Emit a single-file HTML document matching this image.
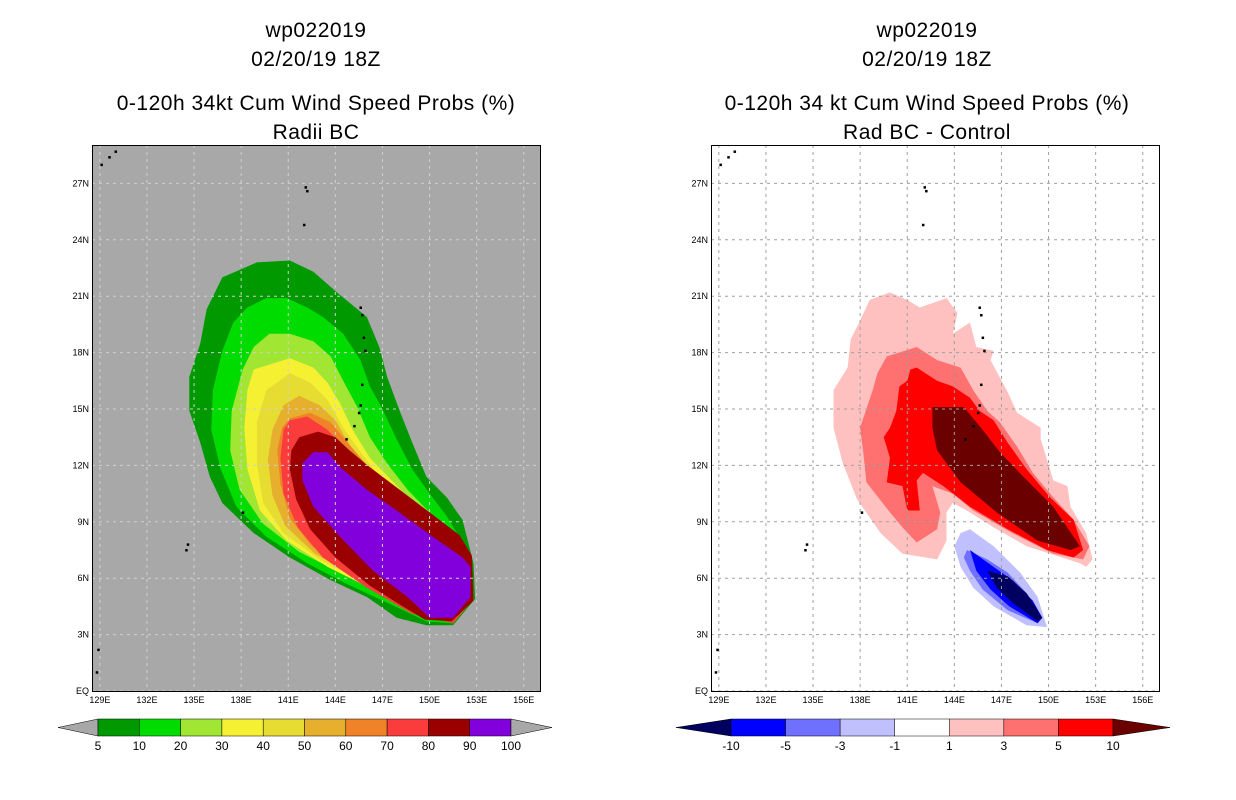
<!DOCTYPE html>
<html><head><meta charset="utf-8">
<style>
body{margin:0;background:#fff;}
svg{display:block;font-family:"Liberation Sans",sans-serif;}
.title{font-size:21px;fill:#000;text-anchor:middle;letter-spacing:0.5px;}
.tick{font-size:9px;fill:#000;}
.cbl{font-size:12px;fill:#000;text-anchor:middle;}
</style></head>
<body>
<svg id="chart" width="1236" height="800" viewBox="0 0 1236 800"></svg>
<script>
// ---- data ----
const lonTicks=[129,132,135,138,141,144,147,150,153,156];
const latTicks=[0,3,6,9,12,15,18,21,24,27];
const lonLabels=["129E","132E","135E","138E","141E","144E","147E","150E","153E","156E"];
const latLabels=["EQ","3N","6N","9N","12N","15N","18N","21N","24N","27N"];
const leftLevels=["5","10","20","30","40","50","60","70","80","90","100"];
const leftColors=["#009a00","#00dc00","#a0e632","#f5f032","#e6dc32","#e6af2d","#f08228","#fa3c3c","#9a0000","#8200dc"];
const rightLevels=["-10","-5","-3","-1","1","3","5","10"];
const rightColors=["#0000ff","#7070ff","#c0c0ff","#ffffff","#ffc0c0","#ff7070","#ff0000"];
// contour polygons [lon,lat]
const L5=[[136.8,22.0],[139.0,22.8],[141.1,22.9],[142.6,22.3],[144.1,21.2],[146.0,19.9],[146.8,18.3],[147.3,16.7],[148.1,14.9],[148.9,13.2],[149.8,11.4],[151.1,10.3],[152.1,9.1],[152.8,6.8],[152.9,4.9],[151.5,3.5],[149.8,3.5],[147.9,3.9],[146.0,5.0],[143.7,5.9],[141.1,7.1],[138.8,8.4],[136.8,10.0],[136.0,11.4],[135.4,13.2],[134.7,14.9],[134.7,16.7],[135.4,18.5],[135.8,20.3]];
const L10=[[138.4,20.4],[139.6,20.9],[140.9,20.9],[142.2,20.4],[143.2,19.9],[144.5,19.0],[145.6,17.6],[146.2,16.2],[147.0,15.0],[147.9,13.4],[148.9,11.8],[150.0,10.5],[151.1,9.3],[152.1,7.9],[152.7,6.6],[152.8,4.9],[151.5,3.6],[149.8,3.7],[147.3,4.7],[144.7,5.7],[142.2,6.8],[139.6,8.2],[137.7,9.8],[136.7,11.8],[136.1,13.9],[136.2,16.0],[136.8,18.1],[137.5,19.6]];
const L20=[[139.8,19.0],[141.1,19.0],[142.6,18.6],[143.7,17.8],[144.5,16.5],[145.4,15.1],[146.2,13.5],[147.3,12.1],[148.6,10.7],[150.0,9.5],[151.5,8.2],[152.4,7.0],[152.8,4.9],[151.5,3.6],[149.4,4.1],[146.8,5.2],[144.3,6.3],[141.7,7.4],[139.4,8.9],[137.9,10.7],[137.3,12.8],[137.4,14.9],[138.1,17.1],[138.8,18.3]];
const L30=[[138.8,17.1],[141.1,17.7],[142.6,17.2],[143.5,16.4],[144.3,15.3],[145.1,13.9],[146.2,12.4],[147.7,11.1],[149.4,9.6],[151.1,8.4],[152.4,7.0],[152.8,4.9],[151.5,3.6],[148.9,4.3],[146.4,5.4],[143.5,6.6],[140.9,8.0],[139.2,9.6],[138.4,11.8],[138.2,14.0],[138.4,16.0]];
const L40=[[141.1,16.9],[142.4,16.4],[143.5,15.5],[144.5,14.0],[145.6,12.7],[147.0,11.2],[148.9,9.8],[150.9,8.6],[152.4,7.1],[152.8,4.9],[151.5,3.6],[148.8,4.5],[146.0,5.7],[143.0,7.0],[140.7,8.4],[139.4,10.0],[139.0,12.1],[139.0,14.3],[139.6,16.0]];
const L50=[[141.7,15.7],[143.0,15.2],[144.0,14.4],[144.9,13.1],[146.2,11.8],[147.8,10.4],[149.7,9.2],[151.6,8.0],[152.4,7.0],[152.8,4.9],[151.5,3.6],[148.4,4.7],[145.6,6.0],[142.7,7.3],[140.8,8.8],[140.0,10.4],[139.7,12.3],[140.0,13.9],[140.7,15.2]];
const L60=[[141.1,14.5],[142.4,14.8],[143.7,14.3],[144.6,13.4],[145.9,12.1],[147.5,10.7],[149.4,9.5],[151.3,8.2],[152.3,7.0],[152.8,4.9],[151.5,3.6],[148.1,4.8],[145.3,6.3],[142.5,7.7],[141.1,9.2],[140.5,11.0],[140.3,12.8],[140.6,14.0]];
const L70=[[141.1,14.4],[142.2,14.6],[143.5,13.9],[144.7,12.8],[146.4,11.4],[148.6,10.0],[150.7,8.7],[152.1,7.5],[152.8,4.9],[151.5,3.6],[148.9,4.1],[146.0,5.5],[143.2,7.1],[141.6,8.7],[140.7,10.5],[140.5,12.4],[140.7,13.9]];
const L80=[[141.7,13.5],[142.9,13.8],[144.0,13.5],[144.9,12.8],[146.2,11.9],[148.1,10.7],[150.0,9.5],[151.9,8.3],[152.7,7.2],[152.8,4.8],[151.4,3.7],[149.7,3.8],[148.1,4.6],[146.2,5.6],[144.0,7.1],[142.4,8.6],[141.5,10.2],[141.1,11.8],[141.2,12.8]];
const L90=[[142.6,12.7],[143.5,12.7],[144.3,11.9],[146.0,10.7],[147.9,9.6],[150.2,8.2],[152.1,7.1],[152.6,6.6],[152.6,5.0],[151.5,3.9],[150.0,3.9],[148.6,5.0],[146.4,6.4],[144.3,8.2],[142.6,9.8],[141.9,11.2],[141.9,12.1]];
const P1=[[138.6,20.8],[139.9,21.2],[141.0,20.8],[141.8,20.4],[143.5,20.9],[144.2,20.1],[143.9,19.0],[145.0,19.6],[145.4,18.3],[146.5,18.1],[146.3,17.6],[147.4,15.9],[148.0,14.8],[149.5,14.0],[149.5,13.4],[150.3,11.2],[151.2,10.9],[151.4,9.8],[152.4,8.4],[152.8,7.0],[152.4,6.6],[152.0,6.8],[148.6,7.7],[146.5,8.7],[144.8,9.6],[143.9,10.0],[143.5,9.5],[143.5,8.0],[142.9,7.0],[140.7,7.3],[139.3,8.4],[137.8,10.2],[136.9,12.1],[136.3,14.0],[136.3,16.0],[137.2,17.2],[137.4,18.7],[138.0,19.7]];
const P3=[[139.7,17.8],[141.6,18.3],[142.9,17.6],[144.4,17.2],[145.2,16.0],[146.1,14.9],[146.9,14.3],[148.0,13.0],[149.0,11.6],[150.3,10.3],[151.6,9.1],[152.6,7.7],[152.2,7.0],[150.3,7.3],[147.7,8.4],[145.2,9.6],[143.9,10.5],[142.6,10.9],[143.1,9.5],[142.9,8.6],[141.6,7.9],[140.7,8.7],[139.9,9.5],[138.4,11.1],[138.2,12.7],[138.0,14.0],[138.8,16.0],[139.1,16.9]];
const P5=[[141.2,17.1],[141.6,17.2],[142.9,16.5],[143.9,16.2],[145.0,15.6],[145.6,14.9],[146.5,14.4],[147.4,13.2],[148.6,11.8],[150.1,10.3],[151.6,9.1],[152.2,7.5],[151.6,7.1],[149.9,7.5],[147.4,8.6],[145.0,9.8],[143.3,10.9],[142.0,11.6],[141.6,11.2],[141.8,9.6],[141.0,9.6],[140.7,10.9],[139.7,11.1],[139.9,12.4],[139.5,13.5],[139.9,14.0],[140.3,14.9],[140.5,16.2],[141.0,16.5]];
const P10=[[142.6,15.1],[144.6,15.1],[145.8,13.9],[146.9,12.7],[148.4,11.4],[150.3,9.8],[152.0,7.7],[151.4,7.5],[149.3,8.0],[146.7,9.5],[144.4,11.1],[142.9,12.8],[142.6,14.0]];
const N1=[[144.4,8.4],[145.0,8.6],[146.5,7.7],[148.2,6.3],[149.3,5.0],[149.9,3.4],[148.6,3.5],[146.5,4.5],[145.2,5.5],[144.4,6.6],[144.0,7.7]];
const N3=[[144.8,7.5],[146.1,7.0],[147.4,6.3],[148.6,5.2],[149.6,3.9],[149.3,3.6],[147.4,4.3],[145.8,5.4],[145.0,6.4],[144.6,7.1]];
const N5=[[145.0,7.5],[146.5,6.6],[147.7,5.9],[149.0,4.8],[149.6,3.9],[149.3,3.6],[147.5,4.5],[146.3,5.4],[145.4,6.4]];
const N10=[[146.1,6.4],[147.4,6.1],[148.6,5.2],[149.6,3.9],[149.3,3.7],[147.7,4.7],[146.7,5.5]];
const islands=[[129.1,28.0],[129.6,28.4],[130.0,28.7],[142.1,26.8],[142.2,26.6],[142.0,24.8],[145.6,20.4],[145.7,20.0],[145.8,18.8],[145.9,18.1],[145.7,16.3],[145.6,15.2],[145.5,14.8],[145.2,14.1],[144.7,13.4],[138.1,9.5],[134.5,7.5],[134.6,7.8],[128.9,2.2],[128.8,1.0]];

// ---- axes ----
const panels=[{x0:92,name:"radii-bc"},{x0:711,name:"rad-bc-minus-control"}];
const PX=15.7, PY=18.8, LON0=128.5, Y0=691, TOP=145, W=448;
function sx(p,lon){return p.x0+(lon-LON0)*PX;}
function sy(lat){return Y0-lat*PY;}
const NS="http://www.w3.org/2000/svg";
const svg=document.getElementById('chart');
function mk(tag,attrs,parent){const e=document.createElementNS(NS,tag);for(const k in attrs)e.setAttribute(k,attrs[k]);(parent||svg).appendChild(e);return e;}
function poly(p,pts,fill,name,g){
  const e=mk('polygon',{points:pts.map(q=>sx(p,q[0]).toFixed(1)+','+sy(q[1]).toFixed(1)).join(' '),fill:fill},g);
  
  
}
function text(x,y,s,cls,name,anchor){const t=mk('text',{x:x,y:y,class:cls});if(anchor)t.setAttribute('text-anchor',anchor);t.textContent=s;return t;}

// titles
text(316,37,"wp022019","title","left-title-storm");
text(316,66,"02/20/19 18Z","title","left-title-date");
text(316,110,"0-120h 34kt Cum Wind Speed Probs (%)","title","left-title-product");
text(316,139,"Radii BC","title","left-subtitle");
text(927,37,"wp022019","title","right-title-storm");
text(927,66,"02/20/19 18Z","title","right-title-date");
text(927,110,"0-120h 34 kt Cum Wind Speed Probs (%)","title","right-title-product");
text(927,139,"Rad BC - Control","title","right-subtitle");

panels.forEach((p,pi)=>{
  const g=mk('g',{});
  
  
  const cp='clip'+pi;
  const cl=mk('clipPath',{id:cp},g);mk('rect',{x:p.x0,y:TOP,width:W,height:Y0-TOP},cl);
  const bg=mk('rect',{x:p.x0,y:TOP,width:W,height:Y0-TOP,fill:pi==0?'#a8a8a8':'#ffffff'},g);
  
  
  const cg=mk('g',{'clip-path':'url(#'+cp+')'},g);
  if(pi==0){
    [L5,L10,L20,L30,L40,L50,L60,L70,L80,L90].forEach((L,i)=>poly(p,L,leftColors[i],'contour-'+leftLevels[i],cg));
  } else {
    poly(p,P1,'#ffc0c0','contour-pos-1',cg);
    poly(p,P3,'#ff7070','contour-pos-3',cg);
    poly(p,P5,'#ff0000','contour-pos-5',cg);
    poly(p,P10,'#6a0000','contour-pos-10',cg);
    poly(p,N1,'#c0c0ff','contour-neg-1',cg);
    poly(p,N3,'#7070ff','contour-neg-3',cg);
    poly(p,N5,'#0000ff','contour-neg-5',cg);
    poly(p,N10,'#000060','contour-neg-10',cg);
  }
  // grid
  const gc=pi==0?'#d0d0d0':'#a0a0a0';
  lonTicks.forEach(v=>{const l=mk('line',{x1:sx(p,v),x2:sx(p,v),y1:TOP,y2:Y0,stroke:gc,'stroke-width':1,'stroke-dasharray':'3,4'},cg);});
  latTicks.forEach(v=>{const l=mk('line',{x1:p.x0,x2:p.x0+W,y1:sy(v),y2:sy(v),stroke:gc,'stroke-width':1,'stroke-dasharray':'3,4'},cg);});
  // islands
  islands.forEach(q=>{const r=mk('rect',{x:sx(p,q[0])-1,y:sy(q[1])-1,width:2.5,height:2.5,fill:'#000'},cg);});
  const fr=mk('rect',{x:p.x0+0.5,y:TOP+0.5,width:W,height:Y0-TOP,fill:'none',stroke:'#000','stroke-width':1},g);
  
  
  lonTicks.forEach((v,i)=>text(sx(p,v),703,lonLabels[i],'tick','lon-tick-label','middle'));
  latTicks.forEach((v,i)=>text(p.x0-3,sy(v)+3,latLabels[i],'tick','lat-tick-label','end'));
});

// colorbars
function colorbar(x0,x1,y0,y1,tl,tr,cols,leftTri,rightTri,labels,name){
  const g=mk('g',{});
  
  
  const n=cols.length, w=(x1-x0)/n, ym=(y0+y1)/2;
  const t1=mk('polygon',{points:`${tl},${ym} ${x0},${y0} ${x0},${y1}`,fill:leftTri,stroke:'#000','stroke-width':0.5},g);
  
  cols.forEach((c,i)=>{const r=mk('rect',{x:x0+i*w,y:y0,width:w,height:y1-y0,fill:c,stroke:'#000','stroke-width':0.5},g);});
  const t2=mk('polygon',{points:`${tr},${ym} ${x1},${y0} ${x1},${y1}`,fill:rightTri,stroke:'#000','stroke-width':0.5},g);
  
  labels.forEach((s,i)=>text(x0+i*w,750,s,'cbl','colorbar-label','middle'));
}
colorbar(98,511,719,736,58,552,leftColors,'#a8a8a8','#a8a8a8',leftLevels,'left-colorbar');
colorbar(731,1113,719,736,676,1170,rightColors,'#000060','#6a0000',rightLevels,'right-colorbar');
</script>
</body></html>
